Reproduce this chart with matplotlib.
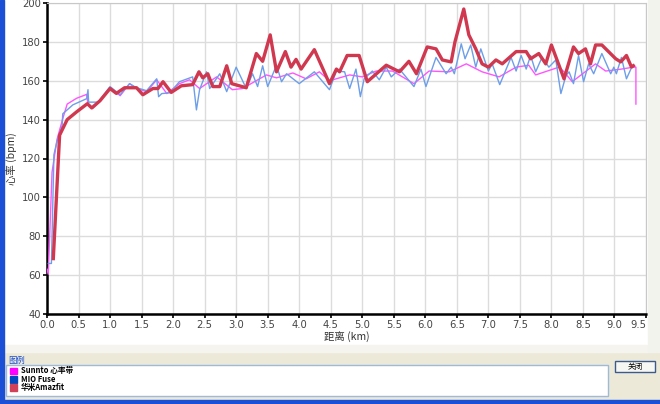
import matplotlib
matplotlib.use("Agg")
import matplotlib.pyplot as plt
from matplotlib.patches import Rectangle

plt.rcParams['font.family'] = ['DejaVu Sans', 'Noto Sans CJK SC']
CJK = ['Noto Sans CJK SC', 'DejaVu Sans']

# Sunnto chest strap (pink)
sunnto_km = [0.0, 0.02, 0.08, 0.16, 0.25, 0.32, 0.47, 0.63, 0.65, 0.73, 0.85, 1.0, 1.16, 1.31,
             1.42, 1.58, 1.74, 1.9, 2.1, 2.26, 2.42, 2.69, 2.94, 3.1, 3.48, 3.64, 3.9, 4.11,
             4.32, 4.48, 4.8, 5.0, 5.22, 5.48, 5.82, 6.06, 6.38, 6.65, 6.9, 7.17, 7.44, 7.64,
             7.75, 8.12, 8.2, 8.33, 8.7, 8.86, 9.11, 9.3, 9.34, 9.34]
sunnto_bpm = [63, 60.5, 113, 130, 140.5, 148, 151, 153, 147.8, 146, 150, 156.5, 152.3, 158.5,
              156, 154.4, 160.5, 153.4, 158.5, 160.5, 156, 162, 155.4, 156, 163, 161.5, 164, 161,
              164.6, 160, 163, 162, 165, 165, 158.5, 165, 164.6, 168.7, 164.6, 162, 167, 168,
              163, 167, 164.6, 159.5, 168.7, 165, 166, 167, 167, 148]

# MIO Fuse (blue)
mio_km = [0.02, 0.07, 0.11, 0.16, 0.24, 0.25, 0.41, 0.63, 0.65, 0.66, 0.81, 1.0, 1.16, 1.31,
          1.42, 1.58, 1.74, 1.77, 1.82, 1.95, 2.1, 2.31, 2.37, 2.42, 2.53, 2.58, 2.74, 2.85,
          3.0, 3.16, 3.26, 3.34, 3.42, 3.5, 3.64, 3.72, 3.8, 4.0, 4.24, 4.48, 4.59, 4.72,
          4.8, 4.9, 4.97, 5.03, 5.16, 5.27, 5.38, 5.46, 5.59, 5.82, 5.93, 6.01, 6.17, 6.33,
          6.41, 6.46, 6.57, 6.63, 6.72, 6.8, 6.88, 7.0, 7.06, 7.18, 7.36, 7.44, 7.52, 7.6,
          7.67, 7.75, 7.85, 7.96, 8.07, 8.15, 8.23, 8.28, 8.35, 8.43, 8.51, 8.59, 8.67, 8.8,
          8.94, 8.99, 9.03, 9.11, 9.19, 9.26]
mio_bpm = [66, 66, 122, 129, 137, 143, 147.6, 150.8, 155.4, 149, 149, 157, 152.8, 158.5,
           156.4, 154.9, 161, 151.8, 153.4, 153.8, 159.5, 162, 145, 155.4, 164.6, 156, 163.6, 154.4,
           167, 156, 163.6, 157, 167.7, 157, 168, 159.5, 163.6, 158.5, 164.6, 155.4, 165, 164.6,
           156, 166, 151.8, 161, 165, 160.5, 167, 162, 166, 157, 166, 157, 172, 163.6,
           167, 163.6, 179, 171.3, 178.4, 167, 176.4, 165, 168.7, 158, 172, 165, 173, 166,
           173, 164.6, 172, 167, 170.7, 153.4, 162.6, 164.6, 158.5, 173, 159.5, 168.7, 163.6, 174,
           163.6, 167, 163.6, 172, 161, 166]

# Huami Amazfit (red)
amazfit_km = [0.1, 0.2, 0.32, 0.47, 0.64, 0.71, 0.84, 1.0, 1.1, 1.23, 1.42, 1.52, 1.68, 1.76,
              1.84, 1.97, 2.13, 2.31, 2.41, 2.47, 2.55, 2.63, 2.74, 2.85, 2.93, 3.16, 3.32, 3.42,
              3.54, 3.64, 3.78, 3.87, 3.95, 4.03, 4.24, 4.48, 4.59, 4.64, 4.76, 4.95, 5.08, 5.38,
              5.59, 5.74, 5.86, 6.03, 6.17, 6.27, 6.41, 6.47, 6.61, 6.69, 6.8, 6.9, 7.0, 7.12,
              7.22, 7.44, 7.6, 7.67, 7.8, 7.91, 8.0, 8.2, 8.35, 8.43, 8.54, 8.62, 8.7, 8.8,
              9.02, 9.1, 9.19, 9.27, 9.3]
amazfit_bpm = [68.5, 132, 140, 144, 148.2, 146, 149.7, 156, 153.5, 156.4, 156.4, 152.8, 156, 156,
               159.5, 154, 157.4, 158, 164.6, 161.5, 163.6, 157, 157, 167.7, 158.5, 156.4, 174, 170,
               183.6, 164.6, 175, 167, 171, 166, 176, 158.5, 166, 164.6, 173, 173, 159.5, 168,
               164.6, 170, 163.6, 177.4, 176.4, 170.7, 169.7, 180, 196.9, 183.6, 176.4, 168.7, 167, 170.7,
               168.7, 175, 175, 171.3, 174, 168.7, 178.4, 161, 177.4, 174, 176.4, 168.7, 178.4, 178.4,
               171.3, 169.7, 173, 167, 167.7]

legend_names = ['Sunnto 心率带', 'MIO Fuse', '华米Amazfit']
legend_colors = ['#ff00ff', '#0048c0', '#d04058']

fig = plt.figure(figsize=(6.6, 4.04), dpi=100)
fig.patch.set_facecolor('white')

# window chrome
fig.patches.append(Rectangle((0, 0), 1, 54 / 404, transform=fig.transFigure, color='#ece9d8', zorder=0))
fig.patches.append(Rectangle((0, 52 / 404), 648 / 660, 7 / 404, transform=fig.transFigure, color='#f5f4ee', zorder=0))
fig.patches.append(Rectangle((648 / 660, 52 / 404), 12 / 660, 352 / 404, transform=fig.transFigure, color='#f3f3ee', zorder=0))
fig.patches.append(Rectangle((0, 0), 4 / 660, 1, transform=fig.transFigure, color='#1a4fd6', zorder=5))
fig.patches.append(Rectangle((0, 0), 1, 4 / 404, transform=fig.transFigure, color='#1a4fd6', zorder=5))
fig.patches.append(Rectangle((6 / 660, 8 / 404), 602 / 660, 31 / 404, transform=fig.transFigure,
                             facecolor='white', edgecolor='#9fb9d8', lw=1, zorder=1))
fig.patches.append(Rectangle((615 / 660, 32 / 404), 40 / 660, 11 / 404, transform=fig.transFigure,
                             facecolor='#f6f6f2', edgecolor='#3c5a8c', lw=1, zorder=1))
fig.text(635 / 660, 37.5 / 404, '关闭', family=CJK, fontsize=5.5, ha='center', va='center')
fig.text(8 / 660, 44 / 404, '图例', family=CJK, fontsize=6, color='#1a4fd6', va='center')

for i, (name, col) in enumerate(zip(legend_names, legend_colors)):
    yc = (404 - 371 - i * 8.3) / 404
    fig.patches.append(Rectangle((10 / 660, yc - 3.2 / 404), 7 / 660, 6.4 / 404,
                                 transform=fig.transFigure, color=col, zorder=2))
    fig.text(21 / 660, yc, name, family=CJK, fontsize=5.5, weight='bold', va='center')

ax = fig.add_axes([47 / 660, 90 / 404, 599 / 660, 311 / 404])
ax.plot(sunnto_km, sunnto_bpm, color='#ff55ff', lw=1, zorder=3)
ax.plot(mio_km, mio_bpm, color='#6d9ee8', lw=1, zorder=4)
ax.plot(amazfit_km, amazfit_bpm, color='#d0384f', lw=2.4, zorder=5, solid_joinstyle='round')

ax.set_xlim(0, 9.5)
ax.set_ylim(40, 200)
ax.set_xticks([i * 0.5 for i in range(20)])
ax.set_yticks(range(40, 201, 20))
ax.grid(True, color='#dcdcdc', lw=1)
ax.set_axisbelow(True)
for s in ['top', 'right']:
    ax.spines[s].set_color('#c8c8c8')
for s in ['left', 'bottom']:
    ax.spines[s].set_linewidth(1.8)
ax.tick_params(labelsize=7.2, colors='black', labelcolor='#444444', length=3, width=1.2, pad=1.5)
ax.get_xticklabels()[-1].set_horizontalalignment('right')
ax.get_xticklabels()[-1].set_x(9.56)
ax.set_xlabel('距离 (km)', family=CJK, fontsize=7.5, color='#333333')
ax.set_ylabel('心率 (bpm)', family=CJK, fontsize=7.5, color='#333333')
ax.xaxis.set_label_coords(0.5, -23 / 311)
ax.yaxis.set_label_coords(-35 / 599, 0.5)
ax.xaxis.label.set_va('center')
ax.yaxis.label.set_va('center')

fig.savefig('out.png', dpi=100)
